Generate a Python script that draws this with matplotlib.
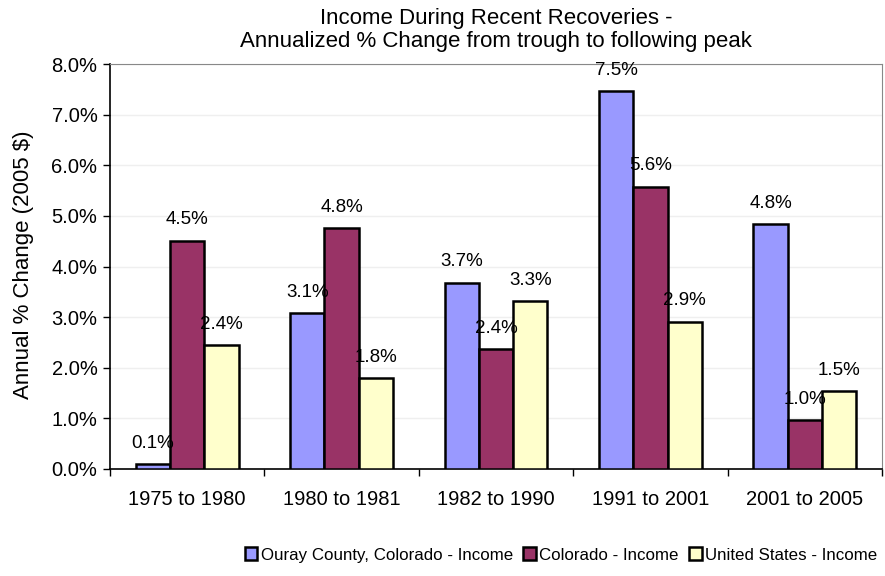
import numpy as np
import matplotlib.pyplot as plt
from matplotlib.ticker import PercentFormatter

plt.rcParams['font.family'] = ['Liberation Sans', 'DejaVu Sans']

periods = ['1975 to 1980', '1980 to 1981', '1982 to 1990', '1991 to 2001', '2001 to 2005']
ouray = [0.1, 3.08, 3.68, 7.47, 4.84]
colorado = [4.51, 4.76, 2.37, 5.58, 0.97]
us = [2.44, 1.80, 3.32, 2.91, 1.54]

series = [('Ouray County, Colorado - Income', ouray, '#9999FF'),
          ('Colorado - Income', colorado, '#993366'),
          ('United States - Income', us, '#FFFFCC')]

fig = plt.figure(figsize=(8.85, 5.76), dpi=100)
ax = fig.add_axes([110/885, 1 - 469/576, 772/885, 405/576])

x = np.arange(len(periods))
w = 0.222
for i, (name, vals, col) in enumerate(series):
    pos = x + (i - 1) * w
    ax.bar(pos, vals, w, color=col, edgecolor='black', linewidth=1.8,
           label=name, zorder=3)
    for p, v in zip(pos, vals):
        ax.text(p, v + 0.32, f'{v:.1f}%', ha='center', va='baseline',
                fontsize=13.5, zorder=4)

ax.set_xlim(-0.5, len(periods) - 0.5)
ax.set_ylim(0, 8)
ax.set_yticks(np.arange(0, 8.1, 1))
ax.yaxis.set_major_formatter(PercentFormatter(decimals=1))
ax.set_xticks(x)
ax.set_xticklabels(periods)
ax.set_xticks(np.arange(-0.5, len(periods)), minor=True)
ax.tick_params(axis='x', which='major', length=0, pad=15, labelsize=14.5)
ax.tick_params(axis='x', which='minor', length=5, width=1)
ax.tick_params(axis='y', length=5, width=1, labelsize=14.5, pad=4)
ax.grid(axis='y', color='#efefef', linewidth=1, zorder=0)

for s in ['top', 'right']:
    ax.spines[s].set_color('#888888')
    ax.spines[s].set_linewidth(0.8)
for s in ['left', 'bottom']:
    ax.spines[s].set_linewidth(1.2)

fig.text(24/885, 1 - 265/576, 'Annual % Change (2005 $)', rotation=90,
         ha='center', va='center', fontsize=16)
fig.text(496/885, 1 - 30/576,
         'Income During Recent Recoveries -\nAnnualized % Change from trough to following peak',
         ha='center', va='center', fontsize=16, linespacing=1.15)

fig.legend(loc='center', bbox_to_anchor=(561/885, 1 - 555/576), ncol=3, frameon=False,
           fontsize=12.2, handlelength=0.75, handleheight=0.75, handletextpad=0.2,
           columnspacing=0.6, borderpad=0.1)

fig.savefig('out.png', dpi=100)
